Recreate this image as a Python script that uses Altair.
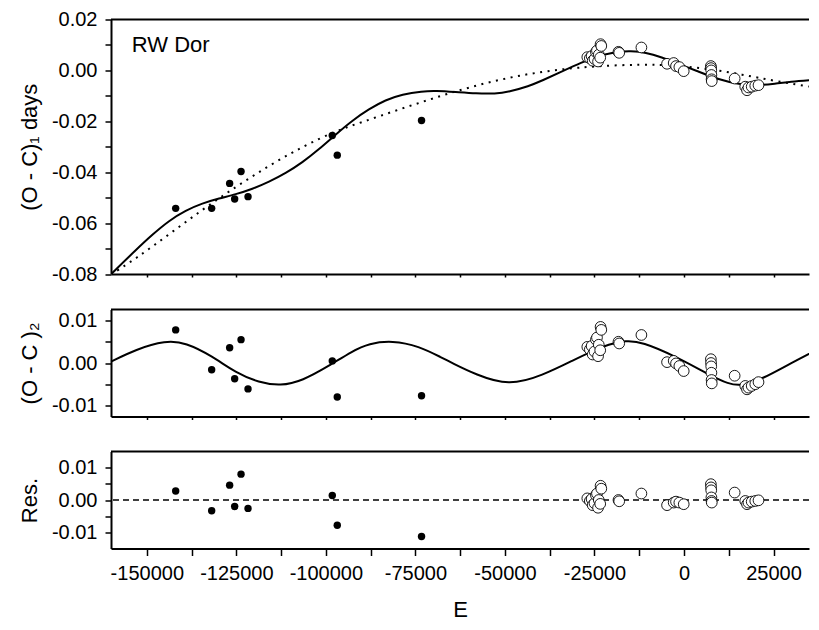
import altair as alt
import pandas as pd

FONT = "Liberation Sans"

# ---------------- data ----------------
# filled circles (old minima)
E_filled = [-141940, -131890, -126870, -125470, -123690, -121740, -98210, -96820, -73290]
oc1_filled = [-0.0542, -0.0542, -0.0444, -0.0505, -0.0397, -0.0496, -0.0256, -0.0333, -0.0197]
oc2_filled = [0.0078, -0.0016, 0.0036, -0.0037, 0.0055, -0.0061, 0.0005, -0.0080, -0.0077]
res_filled = [0.0028, -0.0033, 0.0046, -0.0020, 0.0080, -0.0026, 0.0014, -0.0078, -0.0113]

# open circles (modern minima)
E_open = [-27000, -26300, -25800, -25500, -25000, -24600, -24300, -24000, -23800, -23400, -23300, -23100,
          -18300, -18100, -11900,
          -4740, -2880, -2230, -1300, -80,
          7500, 7550, 7600, 7650, 7700, 7750,
          14140,
          17100, 17600, 18000, 18900, 19900, 20800]
oc1_open = [0.0052, 0.0048, 0.0056, 0.0038, 0.0045, 0.0072, 0.0078, 0.0035, 0.0062, 0.0050, 0.0103, 0.0096,
            0.0073, 0.0069, 0.0090,
            0.0026, 0.0029, 0.0017, 0.0013, -0.0003,
            0.0017, 0.0009, 0.0000, -0.0018, -0.0035, -0.0042,
            -0.0032,
            -0.0064, -0.0078, -0.0067, -0.0064, -0.0060, -0.0058]
oc2_open = [0.0038, 0.0032, 0.0040, 0.0020, 0.0027, 0.0055, 0.0060, 0.0016, 0.0043, 0.0030, 0.0085, 0.0078,
            0.0050, 0.0046, 0.0066,
            0.0002, 0.0005, -0.0001, -0.0007, -0.0019,
            0.0009, 0.0000, -0.0008, -0.0023, -0.0040, -0.0048,
            -0.0030,
            -0.0054, -0.0062, -0.0058, -0.0054, -0.0050, -0.0045]
res_open = [0.0005, -0.0003, 0.0003, -0.0016, -0.0010, 0.0015, 0.0020, -0.0024, 0.0000, -0.0012, 0.0044, 0.0035,
            0.0000, -0.0004, 0.0020,
            -0.0016, -0.0008, -0.0005, -0.0008, -0.0013,
            0.0049, 0.0039, 0.0030, 0.0008, -0.0003, -0.0008,
            0.0023,
            -0.0003, -0.0013, -0.0008, -0.0005, -0.0003, -0.0001]

# full fit (solid line, top panel)
E_fit = [-160000, -153100, -148440, -143780, -139140, -134490, -129830, -125190, -120540, -115880,
         -111240, -106580, -101920, -97290, -92630, -87970, -83340, -78680, -73100, -69390,
         -63780, -58000, -52650, -48920, -43330, -39620, -34040, -28460, -24750, -21950,
         -18000, -15430, -12640, -8930, -3350, 4100, 9680, 15260, 20840, 25480, 29210, 37500]
oc1_fit = [-0.0801, -0.0706, -0.0645, -0.0590, -0.0550, -0.0522, -0.0503, -0.0487, -0.0466, -0.0438,
           -0.0404, -0.0362, -0.0310, -0.0252, -0.0197, -0.0152, -0.0116, -0.0094, -0.0082, -0.0080,
           -0.0085, -0.0091, -0.0092, -0.0084, -0.0062, -0.0040, -0.0004, 0.0032, 0.0052, 0.0064,
           0.0073, 0.0076, 0.0075, 0.0064, 0.0036, -0.0005, -0.0036, -0.0055, -0.0059, -0.0052, -0.0045, -0.0036]

# quadratic ephemeris (dotted line, top panel)
E_quad = [-160000, -153100, -143780, -134490, -125190, -115880, -106580, -97290, -89840, -80550,
          -71230, -61940, -52650, -43330, -34040, -24750, -11720, -2430, 6890, 16180, 25480, 37500]
oc1_quad = [-0.0802, -0.0740, -0.0644, -0.0547, -0.0458, -0.0374, -0.0300, -0.0238, -0.0203, -0.0158,
            -0.0115, -0.0074, -0.0040, -0.0013, 0.0005, 0.0017, 0.0024, 0.0020, 0.0006, -0.0016, -0.0042, -0.0069]

# cyclic term (solid line, middle panel)
E_cyc = [-160000, -153100, -144730, -139140, -131700, -125190, -118680, -112640, -106580, -99140,
         -92630, -87970, -81470, -74030, -67520, -64730, -58230, -48920, -39620, -30330,
         -25670, -21010, -16380, -11720, -2430, 6890, 12470, 16180, 21760, 30130, 37500]
oc2_cyc = [0.0003, 0.0032, 0.0053, 0.0048, 0.0016, -0.0023, -0.0046, -0.0054, -0.0042, -0.0007,
           0.0028, 0.0046, 0.0053, 0.0040, 0.0012, 0.0000, -0.0027, -0.0054, -0.0030, 0.0009,
           0.0028, 0.0044, 0.0053, 0.0050, 0.0016, -0.0027, -0.0050, -0.0054, -0.0038, 0.0001, 0.0033]

x_ticks = list(range(-150000, 30001, 12500))
top_ticks = [-0.08, -0.07, -0.06, -0.05, -0.04, -0.03, -0.02, -0.01, 0.0, 0.01, 0.02]
mid_ticks = [-0.01, -0.005, 0.0, 0.005, 0.01]
res_ticks = [-0.01, -0.005, 0.0, 0.005, 0.01]

X_DOMAIN = [-160000, 34900]
W = 698

filled = pd.DataFrame({"E": E_filled, "oc1": oc1_filled, "oc2": oc2_filled, "res": res_filled})
opened = pd.DataFrame({"E": E_open, "oc1": oc1_open, "oc2": oc2_open, "res": res_open})
fit = pd.DataFrame({"E": E_fit, "v": oc1_fit})
quad = pd.DataFrame({"E": E_quad, "v": oc1_quad})
cyc = pd.DataFrame({"E": E_cyc, "v": oc2_cyc})
label_df = pd.DataFrame({"E": [-154200], "v": [0.0074], "t": ["RW Dor"]})

xscale = alt.Scale(domain=X_DOMAIN, nice=False, zero=False)

def x_hidden():
    return alt.X("E:Q", scale=xscale,
                 axis=alt.Axis(values=x_ticks, labels=False, title=None, tickSize=3))

def x_bottom():
    return alt.X("E:Q", scale=xscale,
                 axis=alt.Axis(values=x_ticks, tickSize=7, labelPadding=8,
                               labelExpr="datum.value % 25000 == 0 ? '' + datum.value : ''",
                               title="E", titleFontSize=22, titlePadding=16,
                               labelFlush=False, labelOverlap=False))

def y_axis(field, domain, ticks, title, expr):
    return alt.Y(f"{field}:Q", scale=alt.Scale(domain=domain, nice=False, zero=False),
                 axis=alt.Axis(values=ticks, title=title, labelExpr=expr, tickSize=6,
                               labelPadding=8, titlePadding=10, labelFlush=False, labelOverlap=False))

expr2 = "abs(round(datum.value*100)) % 2 == 0 ? replace(format(datum.value, '.2f'), '\u2212', '-') : ''"
expr3 = "abs(round(datum.value*1000)) % 10 == 0 ? replace(format(datum.value, '.2f'), '\u2212', '-') : ''"

def top_spine():
    return alt.Chart(pd.DataFrame({"a": [0]})).mark_rule(color="black", strokeWidth=2).encode(
        x=alt.datum(X_DOMAIN[0]), x2=alt.datum(X_DOMAIN[1]), y=alt.value(0))

LINE = dict(color="black", strokeWidth=2, interpolate="basis", clip=True)
OPEN = dict(shape="circle", filled=True, fill="white", stroke="black", strokeWidth=0.9, size=115, opacity=1)
DOT = dict(color="black", size=55, opacity=1)

# ---------- top panel ----------
ytop = lambda f: y_axis(f, [-0.08, 0.02], top_ticks, "(O - C)\u2081 days", expr2)
top = alt.layer(
    alt.Chart(quad).mark_line(strokeDash=[2, 5.5], **LINE).encode(x=x_hidden(), y=ytop("v")),
    alt.Chart(fit).mark_line(**LINE).encode(x=x_hidden(), y=ytop("v")),
    alt.Chart(filled).mark_circle(**DOT).encode(x=x_hidden(), y=ytop("oc1")),
    alt.Chart(opened).mark_point(**OPEN).encode(x=x_hidden(), y=ytop("oc1")),
    alt.Chart(label_df).mark_text(align="left", baseline="alphabetic", font=FONT, fontSize=22,
                                  color="black").encode(x=x_hidden(), y=ytop("v"), text="t:N"),
    top_spine(),
).properties(width=W, height=254.5)

# ---------- middle panel ----------
ymid = lambda f: y_axis(f, [-0.0126, 0.0126], mid_ticks, "(O - C )\u2082", expr3)
mid = alt.layer(
    alt.Chart(cyc).mark_line(**LINE).encode(x=x_hidden(), y=ymid("v")),
    alt.Chart(filled).mark_circle(**DOT).encode(x=x_hidden(), y=ymid("oc2")),
    alt.Chart(opened).mark_point(**OPEN).encode(x=x_hidden(), y=ymid("oc2")),
    top_spine(),
).properties(width=W, height=107)

# ---------- residual panel ----------
yres = lambda f: y_axis(f, [-0.015, 0.015], res_ticks, "Res.", expr3)
res = alt.layer(
    alt.Chart(pd.DataFrame({"z": [0.0]})).mark_rule(color="black", strokeWidth=1.5, strokeDash=[6, 4]).encode(
        y=yres("z")),
    alt.Chart(filled).mark_circle(**DOT).encode(x=x_bottom(), y=yres("res")),
    alt.Chart(opened).mark_point(**OPEN).encode(x=x_bottom(), y=yres("res")),
    top_spine(),
).properties(width=W, height=97)

chart = alt.vconcat(top, mid, res, spacing=35, bounds="flush").resolve_scale(
    x="independent", y="independent"
).properties(
    padding={"left": 10, "top": 1.5, "right": 0, "bottom": 0}
).configure_view(stroke=None).configure_axis(
    domainColor="black", domainWidth=2, tickColor="black", tickWidth=1.5,
    labelFont=FONT, labelFontSize=20, labelColor="black",
    titleFont=FONT, titleFontSize=22, titleColor="black", titleFontWeight="normal",
    grid=False,
)

chart.save("out.html", embed_options={"renderer": "svg", "actions": False})
